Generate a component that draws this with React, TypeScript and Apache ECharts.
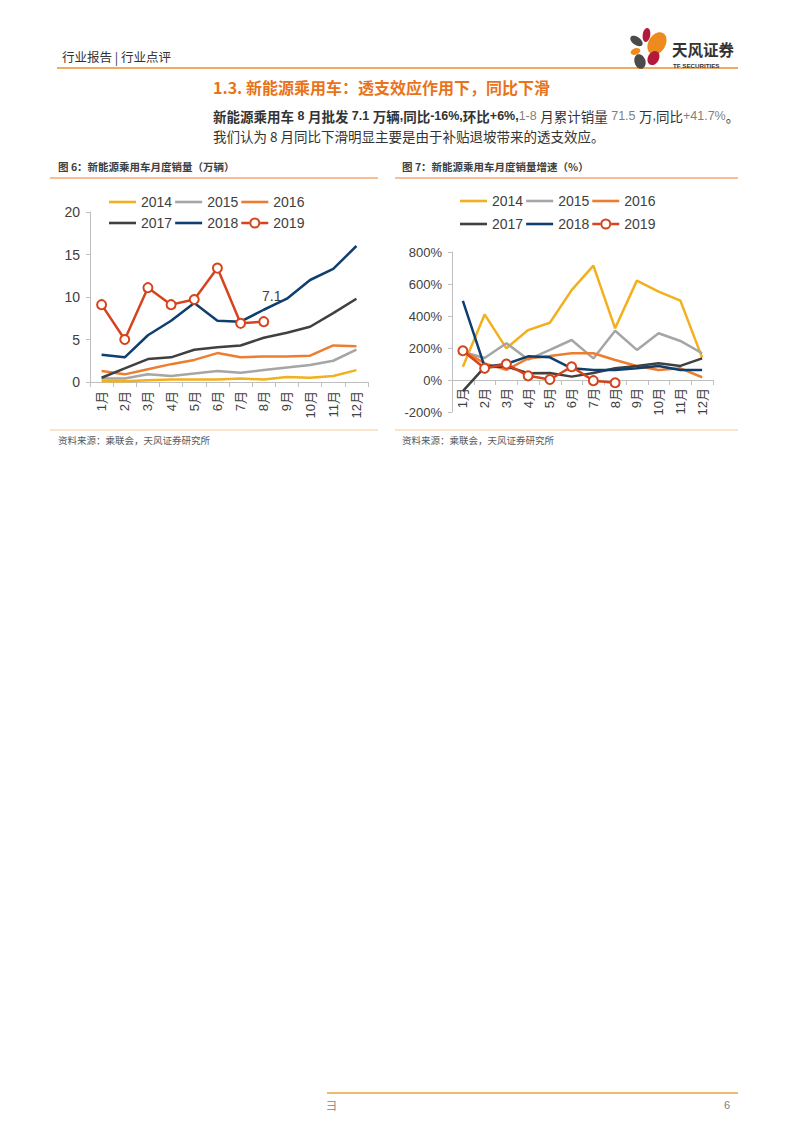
import React, { useEffect, useRef } from "react";
import * as echarts from "echarts";

const months = ["1月", "2月", "3月", "4月", "5月", "6月", "7月", "8月", "9月", "10月", "11月", "12月"];
const years = ["2014", "2015", "2016", "2017", "2018", "2019"];
const yearColors = ["#F2B01E", "#A5A5A5", "#ED7D31", "#404040", "#0E3F6E", "#D5441C"];

// 图6 月度销量（万辆）
const sales2014 = [0.1, 0.1, 0.2, 0.3, 0.3, 0.3, 0.4, 0.3, 0.6, 0.5, 0.7, 1.4];
const sales2015 = [0.4, 0.4, 0.9, 0.7, 1.0, 1.3, 1.1, 1.4, 1.7, 2.0, 2.5, 3.8];
const sales2016 = [1.3, 0.9, 1.5, 2.1, 2.6, 3.4, 2.9, 3.0, 3.0, 3.1, 4.3, 4.2];
const sales2017 = [0.5, 1.6, 2.7, 2.9, 3.8, 4.1, 4.3, 5.2, 5.8, 6.5, 8.1, 9.8];
const sales2018 = [3.2, 2.9, 5.5, 7.2, 9.3, 7.2, 7.1, 8.5, 9.8, 12.0, 13.3, 16.0];
const sales2019 = [9.1, 5.0, 11.1, 9.1, 9.7, 13.4, 6.9, 7.1];

// 图7 月度销量增速（%）
const growth2014 = [83, 410, 198, 312, 358, 562, 715, 323, 621, 552, 496, 140];
const growth2015 = [175, 138, 230, 128, 188, 250, 135, 308, 188, 292, 244, 167];
const growth2016 = [185, 104, 63, 135, 150, 167, 167, 125, 88, 63, 73, 17];
const growth2017 = [-70, 80, 85, 42, 44, 21, 44, 73, 88, 104, 88, 135];
const growth2018 = [494, 83, 100, 148, 142, 73, 63, 63, 73, 88, 63, 63];
const growth2019 = [183, 73, 100, 26, 3, 83, -4, -17];

const salesData = [sales2014, sales2015, sales2016, sales2017, sales2018, sales2019];
const growthData = [growth2014, growth2015, growth2016, growth2017, growth2018, growth2019];

const FONT = "'Liberation Sans', 'Noto Sans CJK SC', sans-serif";
const CJK = "'Noto Sans CJK SC', sans-serif";
const LAT = "'Liberation Sans', sans-serif";

const LINE_ICON = "path://M0,0H27V2.6H0Z";
const MARKER_ICON =
  "path://M0,4.2H8.2V6.8H0Z M18.8,4.2H27V6.8H18.8Z M8,5.5A5.5,5.5 0 1,0 19,5.5A5.5,5.5 0 1,0 8,5.5Z M10,5.5A3.5,3.5 0 1,1 17,5.5A3.5,3.5 0 1,1 10,5.5Z";

function makeSeries(data: number[][], axisIndex: number, labelIdx: number | null) {
  return data.map((vals, i) => {
    const isLast = i === 5;
    const seriesData: any[] = vals.map((v, j) =>
      labelIdx !== null && isLast && j === labelIdx
        ? {
            value: v,
            label: {
              show: true,
              position: "top",
              offset: [8, -8],
              formatter: "{c}",
              fontSize: 14,
              color: "#404040",
              fontFamily: FONT,
            },
          }
        : v
    );
    return {
      name: years[i],
      type: "line",
      xAxisIndex: axisIndex,
      yAxisIndex: axisIndex,
      data: seriesData,
      symbol: isLast ? "circle" : "none",
      symbolSize: 9,
      showSymbol: isLast,
      z: 2 + i,
      lineStyle: { color: yearColors[i], width: 2.5 },
      itemStyle: isLast
        ? { color: "#ffffff", borderColor: yearColors[i], borderWidth: 2 }
        : { color: yearColors[i] },
      emphasis: { disabled: true },
    };
  });
}

function legendItem(name: string) {
  const idx = years.indexOf(name);
  if (idx === 5) {
    return { name, icon: MARKER_ICON, itemStyle: { color: yearColors[idx], borderWidth: 0 } };
  }
  return { name, icon: LINE_ICON, itemStyle: { color: yearColors[idx], borderWidth: 0 } };
}

function legendDef(names: string[], left: number, top: number, textW: number) {
  return {
    data: names.map(legendItem),
    left,
    top,
    orient: "horizontal",
    itemWidth: 27,
    itemHeight: 11,
    itemGap: 3,
    padding: 0,
    selectedMode: false,
    textStyle: { fontSize: 14, color: "#404040", fontFamily: FONT, width: textW },
  };
}

function xAxisDef(gridIndex: number, margin: number, offset: number) {
  return {
    type: "category",
    gridIndex,
    data: months,
    boundaryGap: true,
    position: "bottom",
    offset,
    axisLine: { show: true, onZero: false, lineStyle: { color: "#BFBFBF", width: 1 } },
    axisTick: { show: true, length: 5, lineStyle: { color: "#BFBFBF" } },
    axisLabel: { rotate: 90, fontSize: 13, color: "#404040", margin, fontFamily: FONT, interval: 0 },
    splitLine: { show: false },
  };
}

export default function App() {
  const ref = useRef<HTMLDivElement>(null);

  useEffect(() => {
    document.body.style.margin = "0";
    const chart = echarts.init(ref.current!, null, { renderer: "svg" });

    const graphic: any[] = [
      // header
      { type: "text", left: 62, top: 50, style: { text: "行业报告 | 行业点评", fontSize: 12.5, fill: "#333", fontFamily: CJK } },
      { type: "line", shape: { x1: 57, y1: 68, x2: 738, y2: 68 }, style: { stroke: "#E8912F", lineWidth: 1.5 } },
      // logo
      { type: "ellipse", x: 646.5, y: 35, rotation: -0.15, shape: { cx: 0, cy: 0, rx: 3.8, ry: 7 }, style: { fill: "#B3183D" } },
      { type: "ellipse", x: 636.5, y: 41, rotation: -0.6, shape: { cx: 0, cy: 0, rx: 7, ry: 4 }, style: { fill: "#4A4A4A" } },
      { type: "ellipse", x: 657, y: 43.5, rotation: -0.55, shape: { cx: 0, cy: 0, rx: 8.5, ry: 12 }, style: { fill: "#EE8B1E" } },
      { type: "ellipse", x: 635.5, y: 51.5, rotation: 0.3, shape: { cx: 0, cy: 0, rx: 5, ry: 3.2 }, style: { fill: "#EE8B1E" } },
      { type: "ellipse", x: 640, y: 61.5, rotation: 0.3, shape: { cx: 0, cy: 0, rx: 5.5, ry: 7.5 }, style: { fill: "#4A4A4A" } },
      { type: "ellipse", x: 653.5, y: 58, rotation: -0.5, shape: { cx: 0, cy: 0, rx: 5.5, ry: 7.5 }, style: { fill: "#B3183D" } },
      {
        type: "text",
        x: 672,
        y: 49,
        style: { text: "天风证券", fontSize: 15.5, fontWeight: "bold", fill: "#333", fontFamily: CJK, verticalAlign: "middle", align: "left" },
      },
      {
        type: "text",
        x: 673,
        y: 65,
        style: { text: "TF SECURITIES", fontSize: 6.2, fontWeight: "bold", fill: "#333", fontFamily: LAT, verticalAlign: "middle", align: "left" },
      },
      // section title
      {
        type: "text",
        left: 213,
        top: 79,
        style: { text: "1.3. 新能源乘用车：透支效应作用下，同比下滑", fontSize: 16, fontWeight: "bold", fill: "#E8731A", fontFamily: CJK },
      },
      // paragraph
      {
        type: "text",
        left: 213,
        top: 109,
        style: {
          text:
            "{bc|新能源乘用车}{bl| 8 }{bc|月批发}{bl| 7.1 }{bc|万辆}{bl|,}{bc|同比}{bl|-16%,}{bc|环比}{bl|+6%,}{gl|1-8 }{nc|月累计销量}{gl| 71.5 }{nc|万}{nl|,}{nc|同比}{gl|+41.7%}{nc|。}",
          fontFamily: CJK,
          fontSize: 13.5,
          rich: {
            bc: { fontSize: 13.5, lineHeight: 18, verticalAlign: "middle", fontWeight: "bold", fill: "#333", fontFamily: CJK },
            bl: { fontSize: 12.5, lineHeight: 18, verticalAlign: "middle", fontWeight: "bold", fill: "#333", fontFamily: LAT },
            nc: { fontSize: 13.5, lineHeight: 18, verticalAlign: "middle", fill: "#333", fontFamily: CJK },
            nl: { fontSize: 12.5, lineHeight: 18, verticalAlign: "middle", fill: "#333", fontFamily: LAT },
            gl: { fontSize: 12.5, lineHeight: 18, verticalAlign: "middle", fill: "#7F7F7F", fontFamily: LAT },
          },
        },
      },
      {
        type: "text",
        left: 213,
        top: 129,
        style: { text: "我们认为 8 月同比下滑明显主要是由于补贴退坡带来的透支效应。", fontSize: 13.5, fill: "#333", fontFamily: CJK },
      },
      // chart titles
      { type: "text", left: 58, top: 161, style: { text: "图 6：新能源乘用车月度销量（万辆）", fontSize: 10.5, fontWeight: "bold", fill: "#404040", fontFamily: CJK } },
      { type: "line", shape: { x1: 50, y1: 178, x2: 378, y2: 178 }, style: { stroke: "#ED7D31", lineWidth: 1 } },
      { type: "text", left: 402, top: 161, style: { text: "图 7：新能源乘用车月度销量增速（%）", fontSize: 10.5, fontWeight: "bold", fill: "#404040", fontFamily: CJK } },
      { type: "line", shape: { x1: 395, y1: 178, x2: 738, y2: 178 }, style: { stroke: "#ED7D31", lineWidth: 1 } },
      // sources
      { type: "line", shape: { x1: 50, y1: 430, x2: 378, y2: 430 }, style: { stroke: "#F6C99A", lineWidth: 1 } },
      { type: "line", shape: { x1: 395, y1: 430, x2: 738, y2: 430 }, style: { stroke: "#F6C99A", lineWidth: 1 } },
      { type: "text", left: 58, top: 435, style: { text: "资料来源：乘联会，天风证券研究所", fontSize: 9.5, fill: "#595959", fontFamily: CJK } },
      { type: "text", left: 402, top: 435, style: { text: "资料来源：乘联会，天风证券研究所", fontSize: 9.5, fill: "#595959", fontFamily: CJK } },
      // footer
      { type: "line", shape: { x1: 327, y1: 1093, x2: 738, y2: 1093 }, style: { stroke: "#E8A33D", lineWidth: 1.5 } },
      { type: "text", left: 326, top: 1099, style: { text: "彐", fontSize: 11, fill: "#7F7F7F", fontFamily: CJK } },
      { type: "text", left: 724, top: 1099, style: { text: "6", fontSize: 11, fill: "#7F7F7F", fontFamily: FONT } },
    ];

    const option: any = {
      animation: false,
      backgroundColor: "#ffffff",
      textStyle: { fontFamily: FONT },
      legend: [
        legendDef(["2014", "2015", "2016"], 109, 195, 50),
        legendDef(["2017", "2018", "2019"], 109, 216, 50),
        legendDef(["2014", "2015", "2016"], 460, 194, 45),
        legendDef(["2017", "2018", "2019"], 460, 217, 45),
      ],
      grid: [
        { left: 90, top: 212, width: 278, height: 170, containLabel: false },
        { left: 452, top: 252, width: 261, height: 160, containLabel: false },
      ],
      xAxis: [xAxisDef(0, 9, 0), xAxisDef(1, 8, -32)],
      yAxis: [
        {
          type: "value",
          gridIndex: 0,
          min: 0,
          max: 20,
          interval: 5,
          axisLine: { show: true, lineStyle: { color: "#BFBFBF" } },
          axisTick: { show: true, length: 4, lineStyle: { color: "#BFBFBF" } },
          axisLabel: { fontSize: 14, color: "#404040", margin: 10, fontFamily: FONT },
          splitLine: { show: false },
        },
        {
          type: "value",
          gridIndex: 1,
          min: -200,
          max: 800,
          interval: 200,
          axisLine: { show: true, lineStyle: { color: "#BFBFBF" } },
          axisTick: { show: true, length: 4, lineStyle: { color: "#BFBFBF" } },
          axisLabel: { fontSize: 13, color: "#404040", margin: 10, fontFamily: FONT, formatter: "{value}%" },
          splitLine: { show: false },
        },
      ],
      series: [...makeSeries(salesData, 0, 7), ...makeSeries(growthData, 1, null)],
      graphic,
    };

    chart.setOption(option);
    return () => chart.dispose();
  }, []);

  return <div ref={ref} style={{ position: "absolute", left: 0, top: 0, width: 802, height: 1133 }} />;
}
